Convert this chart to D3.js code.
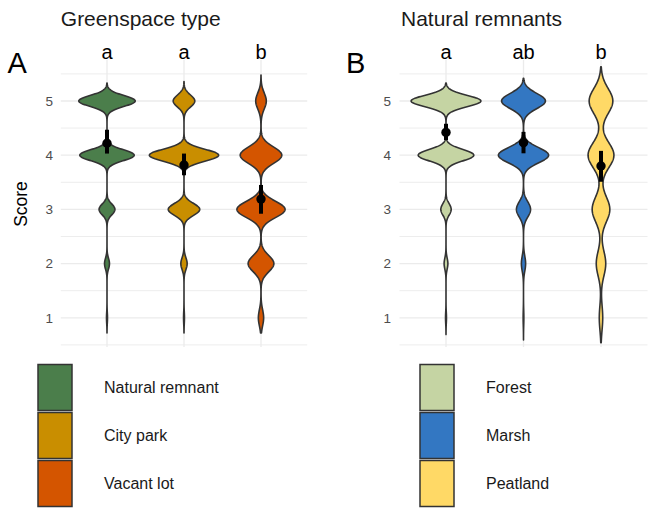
<!DOCTYPE html>
<html><head><meta charset="utf-8">
<script src="https://cdn.jsdelivr.net/npm/d3@7"></script>
<style>body{margin:0;background:#fff}svg{display:block;font-family:"Liberation Sans",Arial,sans-serif}</style>
</head><body><svg id="c" width="648" height="511"></svg>
<script>
// ---- data ----
const scores = [1, 2, 3, 4, 5];
const panelTitles = ["Greenspace type", "Natural remnants"];
const panelTags = ["A", "B"];
const catsA = ["Natural remnant", "City park", "Vacant lot"];
const catsB = ["Forest", "Marsh", "Peatland"];
const colorsA = ["#4b7e4b", "#c98e00", "#d45500"];
const colorsB = ["#c5d4a3", "#3377c2", "#ffd966"];
const lettersA = ["a", "a", "b"];
const lettersB = ["a", "ab", "b"];
// response counts for scores 1..5
const countsA = [[1, 5, 16, 55, 57], [1, 7, 35, 77, 24], [8, 39, 73, 63, 16]];
const countsB = [[1, 4, 11, 59, 74], [1, 6, 20, 71, 62], [8, 22, 41, 60, 55]];
// kernel bandwidths
const bwA = [0.10, 0.11, 0.15];
const bwB = [0.105, 0.14, 0.23];
// density ranges
const rangeA = [[0.72, 5.33], [0.72, 5.36], [0.72, 5.48]];
const rangeB = [[0.69, 5.33], [0.59, 5.42], [0.54, 5.63]];
// means with confidence intervals
const meanA = [4.22, 3.82, 3.19];
const loA = [4.03, 3.63, 2.92];
const hiA = [4.47, 4.03, 3.45];
const meanB = [4.42, 4.23, 3.80];
const loB = [4.28, 4.035, 3.51];
const hiB = [4.58, 4.43, 4.08];
const yTicks = [1, 2, 3, 4, 5];
const yMinor = [0.5, 1.5, 2.5, 3.5, 4.5, 5.5];

// ---- drawing ----
const svg = d3.select("#c");
const y = d3.scaleLinear().domain([1, 5]).range([317.8, 101]);
const panelTop = 60, panelBottom = 347;

const panels = [
  {cats: catsA, colors: colorsA, letters: lettersA, counts: countsA, bw: bwA, range: rangeA,
   mean: meanA, lo: loA, hi: hiA, x0: 60.8, x1: 307.2, labelX: 53, legX: 38, legTextX: 104},
  {cats: catsB, colors: colorsB, letters: lettersB, counts: countsB, bw: bwB, range: rangeB,
   mean: meanB, lo: loB, hi: hiB, x0: 399.5, x1: 647.5, labelX: 391, legX: 420, legTextX: 486}
];

function kde(counts, h, lo, hi) {
  const n = 512, out = [];
  for (let i = 0; i < n; i++) {
    const v = lo + (hi - lo) * i / (n - 1);
    let d = 0;
    counts.forEach((c, k) => {
      const z = (v - scores[k]) / h;
      d += c * Math.exp(-0.5 * z * z) / (h * Math.sqrt(2 * Math.PI));
    });
    out.push({v, d});
  }
  return out;
}

panels.forEach((p, pi) => {
  const g = svg.append("g");
  const x = d3.scalePoint().domain(p.cats).range([p.x0, p.x1]).padding(0.6);
  const step = x.step();
  // grid
  yMinor.forEach(t => g.append("line").attr("x1", p.x0).attr("x2", p.x1)
    .attr("y1", y(t)).attr("y2", y(t)).attr("stroke", "#ebebeb").attr("stroke-width", 0.9));
  yTicks.forEach(t => g.append("line").attr("x1", p.x0).attr("x2", p.x1)
    .attr("y1", y(t)).attr("y2", y(t)).attr("stroke", "#ebebeb").attr("stroke-width", 1.3));
  p.cats.forEach(c => g.append("line").attr("x1", x(c)).attr("x2", x(c))
    .attr("y1", panelTop).attr("y2", panelBottom).attr("stroke", "#ebebeb").attr("stroke-width", 1.3));
  // y axis labels
  const ax = d3.axisLeft(y).tickValues(yTicks).tickSize(0).tickPadding(0).tickFormat(d3.format("d"));
  const axg = g.append("g").attr("transform", `translate(${p.labelX},0)`).call(ax);
  axg.select(".domain").remove();
  axg.selectAll("text").attr("fill", "#4d4d4d").attr("font-size", 13.5)
    .attr("font-family", '"Liberation Sans",Arial,sans-serif');
  // violins
  const dens = p.cats.map((c, i) => kde(p.counts[i], p.bw[i], p.range[i][0], p.range[i][1]));
  const maxD = d3.max(dens, ds => d3.max(ds, e => e.d));
  const w = d3.scaleLinear().domain([0, maxD]).range([0, 0.45 * step]);
  p.cats.forEach((c, i) => {
    const area = d3.area().y(e => y(e.v)).x0(e => x(c) - w(e.d)).x1(e => x(c) + w(e.d));
    g.append("path").datum(dens[i]).attr("d", area).attr("fill", p.colors[i])
      .attr("stroke", "#333333").attr("stroke-width", 1.6).attr("stroke-linejoin", "round");
  });
  // means
  p.cats.forEach((c, i) => {
    g.append("line").attr("x1", x(c)).attr("x2", x(c)).attr("y1", y(p.lo[i])).attr("y2", y(p.hi[i]))
      .attr("stroke", "#000").attr("stroke-width", 4);
    g.append("circle").attr("cx", x(c)).attr("cy", y(p.mean[i])).attr("r", 4.7).attr("fill", "#000");
  });
  // letters
  p.cats.forEach((c, i) => g.append("text").attr("x", x(c)).attr("y", 58.5).attr("text-anchor", "middle")
    .attr("font-size", 20).attr("fill", "#000").text(p.letters[i]));
  // title & tag
  g.append("text").attr("x", p.x0 + (pi === 0 ? 0 : 1.5)).attr("y", 26).attr("font-size", 21).attr("fill", "#1a1a1a").text(panelTitles[pi]);
  g.append("text").attr("x", pi === 0 ? 7.5 : 346).attr("y", 73).attr("font-size", 29).attr("fill", "#000").text(panelTags[pi]);
  // legend
  p.cats.forEach((c, i) => {
    const ky = 364.5 + i * 48;
    g.append("rect").attr("x", p.legX).attr("y", ky).attr("width", 34).attr("height", 46)
      .attr("fill", p.colors[i]).attr("stroke", "#333333").attr("stroke-width", 1.5);
    g.append("text").attr("x", p.legTextX).attr("y", ky + 23 + 5.5).attr("font-size", 16)
      .attr("fill", "#1a1a1a").text(c);
  });
});
// y axis title
svg.append("text").attr("transform", "translate(27,204) rotate(-90)").attr("text-anchor", "middle")
  .attr("font-size", 17.5).attr("fill", "#000").text("Score");
</script></body></html>
